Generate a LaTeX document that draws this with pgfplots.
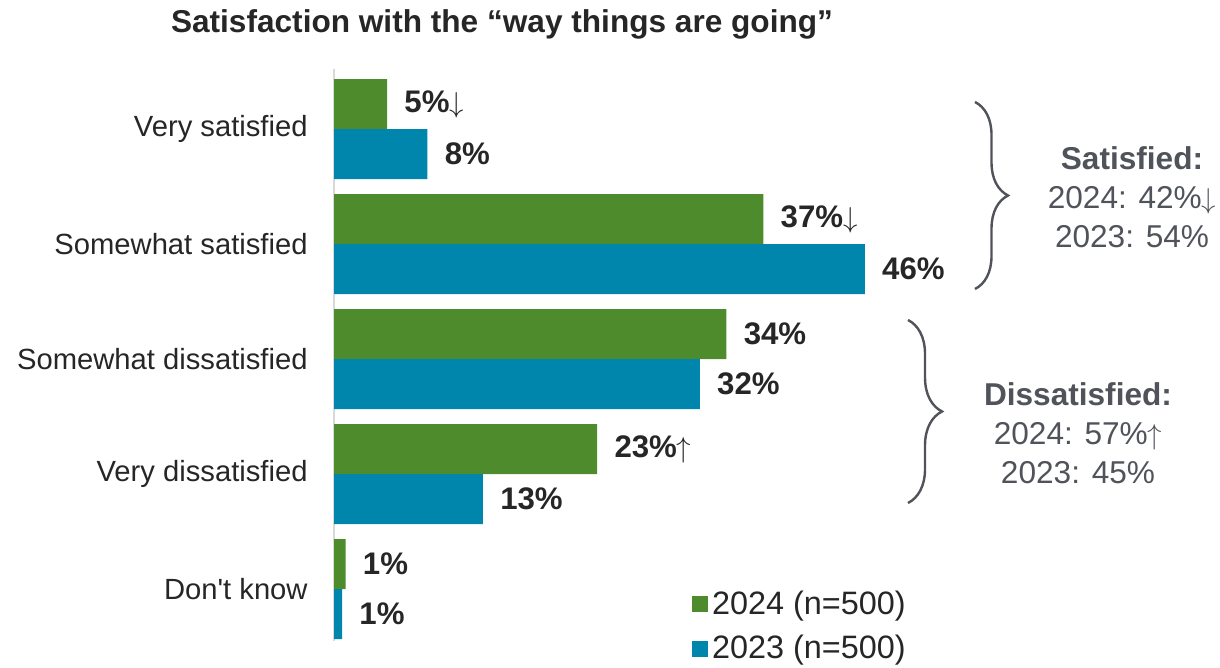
\documentclass[border=0pt]{standalone}
\usepackage{pgfplots}
\pgfplotsset{compat=1.18}
\usepackage{fontspec}
\setmainfont{Liberation Sans}[Ligatures=TeXOff]
\usetikzlibrary{decorations.pathreplacing}

\definecolor{g24}{HTML}{4E8B2C}
\definecolor{b23}{HTML}{0085AD}
\definecolor{lbl}{HTML}{262626}
\definecolor{sumtxt}{HTML}{50535A}
\newcommand{\dn}{$\downarrow$}
\newcommand{\up}{$\uparrow$}

\pgfplotsset{
  sq legend/.style={legend image code/.code={\fill[##1] (0pt,-4pt) rectangle (8pt,4pt);}},
}

\begin{document}
\begin{tikzpicture}
% 1 px of the reference = 0.5pt
\path[use as bounding box] (0,0) rectangle (610pt,334pt);

\begin{axis}[
  at={(167pt,13.6pt)}, anchor=south west,
  x=5.77pt, y=57.5pt,
  xmin=0, xmax=50, ymin=-0.45, ymax=4.52,
  xbar, bar width=25pt,
  axis y line=left, axis x line=none,
  y axis line style={-, draw=black!15, line width=1pt},
  major tick length=0pt,
  ytick={0,1,2,3,4},
  yticklabels={Don't know, Very dissatisfied, Somewhat dissatisfied, Somewhat satisfied, Very satisfied},
  yticklabel style={font=\fontsize{14.6}{17}\selectfont, text=lbl, inner sep=0pt, xshift=-13pt},
  xtick=\empty,
  clip=false,
  nodes near coords,
  point meta=explicit symbolic,
  every node near coord/.append style={anchor=west, inner sep=0pt, xshift=8.5pt,
    font=\fontsize{15.6}{18}\selectfont\bfseries, text=lbl},
  legend style={at={(0.62,0.025)}, anchor=west, draw=none, fill=none, inner sep=0pt,
    row sep=5pt, font=\fontsize{16.2}{19}\selectfont, text=lbl},
  legend cell align=left,
]
\addplot[fill=g24, draw=none, bar shift=12.5pt, sq legend] coordinates {
  (4.6,4) [5\%\dn]
  (37.2,3) [37\%\dn]
  (34.0,2) [34\%]
  (22.8,1) [23\%\up]
  (1.0,0) [1\%]
};
\addlegendentry{2024 (n=500)}
\addplot[fill=b23, draw=none, bar shift=-12.5pt, sq legend] coordinates {
  (8.1,4) [8\%]
  (46.0,3) [46\%]
  (31.7,2) [32\%]
  (12.9,1) [13\%]
  (0.7,0) [1\%]
};
\addlegendentry{2023 (n=500)}
\end{axis}

\node[font=\fontsize{15.8}{19}\selectfont\bfseries, text=lbl] at (251pt,322pt)
  {Satisfaction with the “way things are going”};

\draw[sumtxt, line width=1.2pt, decorate, decoration={brace, amplitude=16.5pt}]
  (487.5pt,283pt) -- (487.5pt,189.5pt);
\draw[sumtxt, line width=1.2pt, decorate, decoration={brace, amplitude=17pt}]
  (454pt,174pt) -- (454pt,82.5pt);

\node[align=center, text=sumtxt, font=\fontsize{15.8}{19.5}\selectfont] at (566pt,235.5pt)
  {\textbf{Satisfied:}\\2024: 42\%$\downarrow$\\2023: 54\%};
\node[align=center, text=sumtxt, font=\fontsize{15.8}{19.5}\selectfont] at (539pt,117.5pt)
  {\textbf{Dissatisfied:}\\2024: 57\%$\uparrow$\\2023: 45\%};
\end{tikzpicture}
\end{document}
